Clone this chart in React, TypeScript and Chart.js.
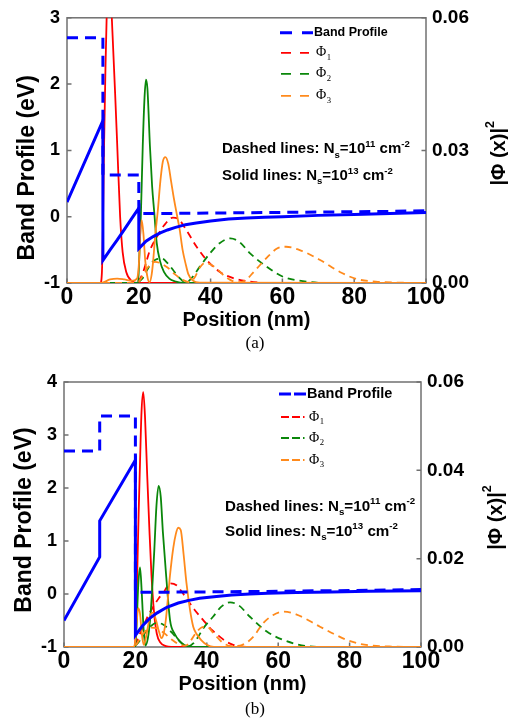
import React, { useEffect, useRef } from "react";
import { Chart, registerables } from "chart.js";
Chart.register(...registerables);

const SANS = "'Liberation Sans', Arial, sans-serif";
const SERIF = "'Liberation Serif', 'Times New Roman', serif";

const BLUE = "#0000ff";
const RED = "#ff0000";
const GREEN = "#0a870a";
const ORANGE = "#ff8a1c";

// ---------------- Panel (a) data ----------------
const bandA_dashed_x = [0, 10, 10, 20, 20, 30, 40, 50, 60, 70, 80, 90, 100];
const bandA_dashed_y = [2.7, 2.7, 0.63, 0.63, 0.05, 0.05, 0.055, 0.06, 0.065, 0.07, 0.075, 0.08, 0.09];
const bandA_solid_x = [0, 10, 10, 12, 14, 16, 18, 20, 20, 22, 24, 26, 28, 30, 33, 36, 40, 45, 50, 55, 60, 70, 80, 90, 100];
const bandA_solid_y = [0.22, 1.45, -0.66, -0.5, -0.35, -0.19, -0.03, 0.13, -0.48, -0.37, -0.3, -0.245, -0.2, -0.165, -0.12, -0.095, -0.065, -0.035, -0.02, -0.01, 0.0, 0.02, 0.035, 0.05, 0.065];

const redA_solid_x = [0, 9.3, 9.7, 10, 10.3, 10.7, 11.1, 11.6, 12.1, 12.7, 13.4, 14, 14.8, 15.5, 16.5, 18, 20, 100];
const redA_solid_y = [0, 0, 0.002, 0.012, 0.03, 0.048, 0.062, 0.068, 0.066, 0.056, 0.043, 0.031, 0.015, 0.007, 0.0025, 0.0005, 0, 0];
const greenA_solid_x = [0, 19.8, 20.1, 20.6, 21.1, 21.6, 22, 22.4, 23.1, 23.7, 24.3, 25, 25.9, 27, 28.5, 30, 33, 100];
const greenA_solid_y = [0, 0, 0.005, 0.016, 0.031, 0.042, 0.046, 0.044, 0.031, 0.022, 0.016, 0.009, 0.005, 0.0025, 0.001, 0.0004, 0, 0];
const orangeA_solid_x = [0, 9.5, 12, 14, 16, 18, 19.5, 20, 20.4, 20.8, 21.3, 21.8, 22.5, 23, 23.6, 24, 24.6, 25.3, 26, 26.7, 27.4, 28.2, 29, 29.8, 30.6, 31.4, 32.2, 33, 33.8, 35, 37, 100];
const orangeA_solid_y = [0, 0, 0.0008, 0.001, 0.0008, 0.0005, 0.001, 0.004, 0.011, 0.0142, 0.011, 0.005, 0.001, 0.0002, 0.002, 0.005, 0.011, 0.0164, 0.023, 0.0275, 0.0285, 0.027, 0.023, 0.019, 0.0155, 0.012, 0.0075, 0.0045, 0.002, 0.0006, 0.0001, 0];

const redA_dashed_x = [0, 19.5, 20, 21, 22, 23, 25, 27, 29.5, 31, 33.3, 36.1, 38.9, 42.6, 46.3, 51, 56, 100];
const redA_dashed_y = [0, 0, 0.0005, 0.002, 0.0045, 0.0072, 0.0104, 0.013, 0.0148, 0.0145, 0.0119, 0.0082, 0.0052, 0.0025, 0.0011, 0.0003, 0, 0];
const greenA_dashed_x = [0, 19.5, 20, 21, 22, 23.5, 25, 26.5, 28, 29.5, 31, 33, 34, 35, 37, 39.8, 42.5, 45.5, 48, 51, 55.6, 60.2, 66.8, 72, 100];
const greenA_dashed_y = [0, 0, 0.0003, 0.001, 0.0025, 0.0045, 0.0054, 0.0055, 0.0045, 0.003, 0.0014, 0.0002, 0.0005, 0.0014, 0.0037, 0.0067, 0.009, 0.0101, 0.0093, 0.0067, 0.0037, 0.0014, 0.0003, 0, 0];
const orangeA_dashed_x = [0, 19.5, 20, 21, 22.5, 24.5, 26, 28, 30, 32, 34, 35.5, 37, 38.5, 40, 42, 44, 46, 48, 50, 52, 56, 58.5, 61, 65, 70.5, 76, 80.7, 86, 92, 100];
const orangeA_dashed_y = [0, 0, 0.0003, 0.0015, 0.0035, 0.0048, 0.0045, 0.0035, 0.002, 0.0008, 0.0002, 0.0012, 0.0035, 0.0046, 0.0042, 0.003, 0.0015, 0.0005, 0.0002, 0.0008, 0.0025, 0.006, 0.0078, 0.0082, 0.0074, 0.0052, 0.0025, 0.0009, 0.0003, 0.0001, 0];

// ---------------- Panel (b) data ----------------
const bandB_dashed_x = [0, 10, 10, 20, 20, 30, 40, 50, 60, 70, 80, 90, 100];
const bandB_dashed_y = [2.7, 2.7, 3.36, 3.36, 0.03, 0.035, 0.04, 0.045, 0.05, 0.06, 0.065, 0.075, 0.085];
const bandB_solid_x = [0, 10, 10, 20, 20, 22, 24, 26, 28.8, 32, 35, 38, 42, 47, 52, 57, 65, 75, 85, 100];
const bandB_solid_y = [-0.5, 0.7, 1.38, 2.53, -0.78, -0.6, -0.46, -0.36, -0.25, -0.17, -0.12, -0.08, -0.05, -0.02, 0.0, 0.015, 0.03, 0.04, 0.05, 0.06];

const redB_solid_x = [0, 19.8, 20.2, 20.5, 20.9, 21.3, 21.7, 22.2, 22.7, 23.3, 23.9, 24.5, 25.2, 26, 27, 28.5, 30, 100];
const redB_solid_y = [0, 0, 0.006, 0.0163, 0.03, 0.042, 0.053, 0.0577, 0.052, 0.039, 0.027, 0.0163, 0.008, 0.003, 0.001, 0.0002, 0, 0];
const greenB_solid_x = [0, 20, 20.4, 20.8, 21.3, 21.8, 22.3, 22.8, 23.5, 24.1, 24.7, 25.3, 25.9, 26.5, 27.1, 27.7, 28.6, 29.7, 31, 32.5, 34, 36, 100];
const greenB_solid_y = [0, 0, 0.006, 0.014, 0.018, 0.012, 0.004, 0.0003, 0.002, 0.006, 0.013, 0.022, 0.032, 0.0365, 0.034, 0.026, 0.0163, 0.0061, 0.003, 0.0012, 0.0003, 0, 0];
const orangeB_solid_x = [0, 19.5, 19.9, 20.3, 20.8, 21.3, 21.8, 22.3, 22.9, 23.6, 24.3, 25, 25.8, 26.6, 27.3, 27.9, 28.5, 29.1, 29.7, 30.6, 31.3, 32, 32.7, 33.5, 34.3, 35.3, 36.2, 37.1, 38.5, 40, 42, 100];
const orangeB_solid_y = [0, 0, 0.001, 0.005, 0.0088, 0.0075, 0.003, 0.0005, 0.002, 0.005, 0.0075, 0.0078, 0.006, 0.0035, 0.002, 0.003, 0.006, 0.011, 0.0163, 0.0224, 0.0255, 0.027, 0.0265, 0.021, 0.0145, 0.0084, 0.0046, 0.003, 0.0015, 0.0005, 0, 0];

const redB_dashed_x = [0, 19.5, 20, 21, 22.2, 23.5, 25, 26.5, 27.8, 29.7, 31.5, 33, 34.3, 36.5, 39, 41.5, 43.7, 45.5, 47.4, 52, 100];
const redB_dashed_y = [0, 0, 0.0005, 0.0025, 0.0046, 0.007, 0.0091, 0.011, 0.0122, 0.0144, 0.014, 0.0125, 0.011, 0.0085, 0.0061, 0.0038, 0.0023, 0.0012, 0.0005, 0, 0];
const greenB_dashed_x = [0, 19.5, 20, 21, 22.5, 24, 26, 27.5, 29, 30.5, 32, 34, 35, 36.2, 37.5, 39, 41.8, 44, 46.5, 49, 52, 56.8, 61.4, 68, 74, 100];
const greenB_dashed_y = [0, 0, 0.0003, 0.0012, 0.003, 0.0045, 0.0055, 0.0052, 0.0043, 0.003, 0.0016, 0.0003, 0.0002, 0.0008, 0.0022, 0.0042, 0.0069, 0.0091, 0.0101, 0.0094, 0.0069, 0.0035, 0.0016, 0.0002, 0, 0];
const orangeB_dashed_x = [0, 19.5, 20, 21, 22.5, 24.5, 26, 28, 30, 32, 34, 35.3, 36.8, 38.5, 40, 42, 44.6, 47, 50, 53, 55.8, 58.5, 61.4, 65, 71.7, 75.5, 79.2, 83, 86.6, 92, 100];
const orangeB_dashed_y = [0, 0, 0.0003, 0.0015, 0.0033, 0.0044, 0.0042, 0.0032, 0.0018, 0.0007, 0.0003, 0.0012, 0.003, 0.0044, 0.0046, 0.003, 0.0009, 0.0002, 0.0005, 0.0023, 0.0054, 0.0072, 0.008, 0.0074, 0.0046, 0.003, 0.0016, 0.0007, 0.0003, 0.0001, 0];

// axis ranges / ticks
const xRange = [0, 100];
const xStep = 20;
const yRangeA = [-1, 3];
const yRangeB = [-1, 4];
const y1RangeA = [0, 0.06];
const y1StepA = 0.03;
const y1RangeB = [0, 0.06];
const y1StepB = 0.02;

const legendLabels = ["Band Profile", "1", "2", "3"];
const noteExps = ["11", "13"];

const pts = (xs: number[], ys: number[]) => xs.map((x, i) => ({ x, y: ys[i] }));

type Part = [string, number, number];

function drawRich(ctx: CanvasRenderingContext2D, x: number, y: number, parts: Part[], family: string, weight: string) {
  let cx = x;
  for (const [t, size, dy] of parts) {
    ctx.font = `${weight} ${size}px ${family}`;
    ctx.fillText(t, cx, y + dy);
    cx += ctx.measureText(t).width;
  }
  return cx;
}

function noteParts(kind: string, exp: string, s: number): Part[] {
  return [
    [`${kind} lines: N`, s, 0],
    ["s", s * 0.64, s * 0.3],
    ["=10", s, 0],
    [exp, s * 0.64, -s * 0.42],
    [" cm", s, 0],
    ["-2", s * 0.64, -s * 0.42],
  ];
}

interface PanelCfg {
  height: number;
  padTop: number;
  leftW: number;
  rightW: number;
  xH: number;
  titlePadBottom: number;
  yRange: number[];
  y1Range: number[];
  y1Step: number;
  bandSolid: { x: number; y: number }[];
  bandDashed: { x: number; y: number }[];
  red: { x: number; y: number }[];
  green: { x: number; y: number }[];
  orange: { x: number; y: number }[];
  redD: { x: number; y: number }[];
  greenD: { x: number; y: number }[];
  orangeD: { x: number; y: number }[];
  legend: { dxSample: number; dxText: number; dy: number[]; bandSize: number; phiSize: number; style: "a" | "b" };
  note: { dx: number; dy: number[]; size: number };
  leftTitle: { dx: number; dyCenter: number; size: number };
  rightTitle: { x: number; dyCenter: number; size: number };
}

function makeChart(canvas: HTMLCanvasElement, cfg: PanelCfg) {
  const tickFont = (size: number) => ({ family: SANS, size, weight: "bold" as const });
  const phiLine = (data: any, color: string, dashed: boolean) => ({
    data,
    borderColor: color,
    borderWidth: 1.8,
    borderDash: dashed ? [7, 5] : [],
    pointRadius: 0,
    fill: false,
    cubicInterpolationMode: "monotone" as const,
    yAxisID: "y1",
    xAxisID: "x",
  });
  const bandLine = (data: any, dashed: boolean) => ({
    data,
    borderColor: BLUE,
    borderWidth: 3,
    borderDash: dashed ? [11, 7] : [],
    pointRadius: 0,
    fill: false,
    tension: 0,
    yAxisID: "y",
    xAxisID: "x",
  });

  const decor = {
    id: "decor",
    beforeDatasetsDraw(chart: any) {
      const { ctx, chartArea: a, scales } = chart;
      ctx.save();
      ctx.strokeStyle = "#707070";
      ctx.lineWidth = 1.5;
      ctx.strokeRect(a.left, a.top, a.right - a.left, a.bottom - a.top);
      ctx.beginPath();
      const L = 4.5;
      scales.y.ticks.forEach((t: any) => {
        const p = scales.y.getPixelForValue(t.value);
        ctx.moveTo(a.left, p);
        ctx.lineTo(a.left + L, p);
      });
      scales.y1.ticks.forEach((t: any) => {
        const p = scales.y1.getPixelForValue(t.value);
        ctx.moveTo(a.right, p);
        ctx.lineTo(a.right - L, p);
      });
      scales.x.ticks.forEach((t: any) => {
        const p = scales.x.getPixelForValue(t.value);
        ctx.moveTo(p, a.bottom);
        ctx.lineTo(p, a.bottom - L);
      });
      ctx.stroke();
      ctx.restore();
    },
    afterDraw(chart: any) {
      const { ctx, chartArea: a } = chart;
      ctx.save();
      ctx.fillStyle = "#000";
      ctx.textAlign = "center";
      ctx.textBaseline = "middle";
      ctx.save();
      ctx.translate(a.left - cfg.leftTitle.dx, a.top + cfg.leftTitle.dyCenter);
      ctx.rotate(-Math.PI / 2);
      ctx.font = `bold ${cfg.leftTitle.size}px ${SANS}`;
      ctx.fillText("Band Profile (eV)", 0, 0);
      ctx.restore();

      ctx.save();
      ctx.translate(cfg.rightTitle.x, a.top + cfg.rightTitle.dyCenter);
      ctx.rotate(-Math.PI / 2);
      const rs = cfg.rightTitle.size;
      ctx.font = `bold ${rs}px ${SANS}`;
      const main = "|Φ (x)|";
      const w = ctx.measureText(main).width;
      ctx.textAlign = "left";
      ctx.fillText(main, -w / 2 - 3, 0);
      ctx.font = `bold ${rs * 0.62}px ${SANS}`;
      ctx.fillText("2", w / 2 - 3, -rs * 0.42);
      ctx.restore();

      const lg = cfg.legend;
      ctx.textAlign = "left";
      ctx.textBaseline = "middle";
      const colors = [BLUE, RED, GREEN, ORANGE];
      legendLabels.forEach((lab, i) => {
        const y = a.top + lg.dy[i];
        const x0 = a.right - lg.dxSample;
        ctx.strokeStyle = colors[i];
        ctx.setLineDash([]);
        ctx.beginPath();
        if (i === 0) {
          ctx.lineWidth = 3;
          if (lg.style === "a") {
            ctx.moveTo(x0, y); ctx.lineTo(x0 + 12, y);
            ctx.moveTo(x0 + 22, y); ctx.lineTo(x0 + 33, y);
          } else {
            ctx.moveTo(x0, y); ctx.lineTo(x0 + 12, y);
            ctx.moveTo(x0 + 15, y); ctx.lineTo(x0 + 27, y);
          }
          ctx.stroke();
        } else {
          ctx.lineWidth = 1.8;
          if (lg.style === "a") {
            ctx.moveTo(x0 + 1, y); ctx.lineTo(x0 + 11, y);
            ctx.moveTo(x0 + 20, y); ctx.lineTo(x0 + 29, y);
          } else {
            ctx.moveTo(x0 + 2, y); ctx.lineTo(x0 + 10, y);
            ctx.moveTo(x0 + 13, y); ctx.lineTo(x0 + 21, y);
            ctx.moveTo(x0 + 24, y); ctx.lineTo(x0 + 25.5, y);
          }
          ctx.stroke();
        }
        const tx = a.right - lg.dxText;
        if (i === 0) {
          ctx.font = `bold ${lg.bandSize}px ${SANS}`;
          ctx.fillText(lab, tx, y);
        } else {
          const ps = lg.phiSize;
          ctx.font = `${ps}px ${SERIF}`;
          ctx.fillText("Φ", tx + 2, y);
          const pw = ctx.measureText("Φ").width;
          ctx.font = `${ps * 0.62}px ${SERIF}`;
          ctx.fillText(lab, tx + 2 + pw + 0.5, y + ps * 0.33);
        }
      });

      const nt = cfg.note;
      ctx.textBaseline = "alphabetic";
      drawRich(ctx, a.left + nt.dx, a.top + nt.dy[0], noteParts("Dashed", noteExps[0], nt.size), SANS, "bold");
      drawRich(ctx, a.left + nt.dx, a.top + nt.dy[1], noteParts("Solid", noteExps[1], nt.size), SANS, "bold");
      ctx.restore();
    },
  };

  return new Chart(canvas, {
    type: "line",
    data: {
      datasets: [
        bandLine(cfg.bandSolid, false),
        bandLine(cfg.bandDashed, true),
        phiLine(cfg.orange, ORANGE, false),
        phiLine(cfg.orangeD, ORANGE, true),
        phiLine(cfg.green, GREEN, false),
        phiLine(cfg.greenD, GREEN, true),
        phiLine(cfg.red, RED, false),
        phiLine(cfg.redD, RED, true),
      ] as any,
    },
    options: {
      animation: false,
      responsive: false,
      maintainAspectRatio: false,
      events: [],
      layout: { padding: { top: cfg.padTop, left: 0, right: 0, bottom: 0 } },
      plugins: { legend: { display: false }, tooltip: { enabled: false } },
      scales: {
        x: {
          type: "linear",
          min: xRange[0],
          max: xRange[1],
          ticks: { stepSize: xStep, font: tickFont(23), color: "#000", padding: 1, maxRotation: 0, autoSkip: false },
          grid: { display: false, drawTicks: false },
          border: { display: false },
          title: {
            display: true,
            text: "Position (nm)",
            color: "#000",
            font: { family: SANS, size: 20, weight: "bold" },
            padding: { top: 0, bottom: cfg.titlePadBottom },
          },
          afterFit: (s: any) => { s.height = cfg.xH; },
        },
        y: {
          type: "linear",
          position: "left",
          min: cfg.yRange[0],
          max: cfg.yRange[1],
          ticks: { stepSize: 1, font: tickFont(18), color: "#000", padding: 7 },
          grid: { display: false, drawTicks: false },
          border: { display: false },
          afterFit: (s: any) => { s.width = cfg.leftW; },
        },
        y1: {
          type: "linear",
          position: "right",
          min: cfg.y1Range[0],
          max: cfg.y1Range[1],
          ticks: {
            stepSize: cfg.y1Step,
            font: tickFont(19),
            color: "#000",
            padding: 6,
            callback: (v: any) => Number(v).toFixed(2),
          },
          grid: { display: false, drawTicks: false },
          border: { display: false },
          afterFit: (s: any) => { s.width = cfg.rightW; },
        },
      },
    } as any,
    plugins: [decor],
  });
}

const panelA: PanelCfg = {
  height: 340,
  padTop: 16,
  leftW: 67,
  rightW: 82,
  xH: 340 - 283,
  titlePadBottom: 8,
  yRange: yRangeA,
  y1Range: y1RangeA,
  y1Step: y1StepA,
  bandSolid: pts(bandA_solid_x, bandA_solid_y),
  bandDashed: pts(bandA_dashed_x, bandA_dashed_y),
  red: pts(redA_solid_x, redA_solid_y),
  green: pts(greenA_solid_x, greenA_solid_y),
  orange: pts(orangeA_solid_x, orangeA_solid_y),
  redD: pts(redA_dashed_x, redA_dashed_y),
  greenD: pts(greenA_dashed_x, greenA_dashed_y),
  orangeD: pts(orangeA_dashed_x, orangeA_dashed_y),
  legend: { dxSample: 146, dxText: 112, dy: [15, 35, 56, 78], bandSize: 12.5, phiSize: 14, style: "a" },
  note: { dx: 155, dy: [135.5, 162], size: 15 },
  leftTitle: { dx: 39, dyCenter: 150, size: 23 },
  rightTitle: { x: 499, dyCenter: 136, size: 20 },
};

const panelB: PanelCfg = {
  height: 348,
  padTop: 30,
  leftW: 64,
  rightW: 87,
  xH: 348 - (647 - 352),
  titlePadBottom: 4,
  yRange: yRangeB,
  y1Range: y1RangeB,
  y1Step: y1StepB,
  bandSolid: pts(bandB_solid_x, bandB_solid_y),
  bandDashed: pts(bandB_dashed_x, bandB_dashed_y),
  red: pts(redB_solid_x, redB_solid_y),
  green: pts(greenB_solid_x, greenB_solid_y),
  orange: pts(orangeB_solid_x, orangeB_solid_y),
  redD: pts(redB_dashed_x, redB_dashed_y),
  greenD: pts(greenB_dashed_x, greenB_dashed_y),
  orangeD: pts(orangeB_dashed_x, orangeB_dashed_y),
  legend: { dxSample: 142, dxText: 114, dy: [12, 35, 56, 78], bandSize: 14.5, phiSize: 14, style: "b" },
  note: { dx: 161, dy: [128.5, 153.5], size: 15.2 },
  leftTitle: { dx: 39, dyCenter: 138, size: 23 },
  rightTitle: { x: 496, dyCenter: 136, size: 20 },
};

function Panel({ cfg, top }: { cfg: PanelCfg; top: number }) {
  const ref = useRef<HTMLCanvasElement | null>(null);
  useEffect(() => {
    if (!ref.current) return;
    const ch = makeChart(ref.current, cfg);
    return () => ch.destroy();
  }, [cfg]);
  return (
    <canvas
      ref={ref}
      width={508}
      height={cfg.height}
      style={{ position: "absolute", left: 0, top, width: 508, height: cfg.height }}
    />
  );
}

export default function App() {
  const cap: React.CSSProperties = {
    position: "absolute",
    left: 0,
    width: 510,
    textAlign: "center",
    fontFamily: SERIF,
    fontSize: 17,
    lineHeight: "20px",
    color: "#000",
  };
  return (
    <div style={{ position: "absolute", left: 0, top: 0, width: 508, height: 719, background: "#fff", overflow: "hidden" }}>
      <Panel cfg={panelA} top={0} />
      <div style={{ ...cap, top: 333 }}>(a)</div>
      <Panel cfg={panelB} top={352} />
      <div style={{ ...cap, top: 699 }}>(b)</div>
    </div>
  );
}
